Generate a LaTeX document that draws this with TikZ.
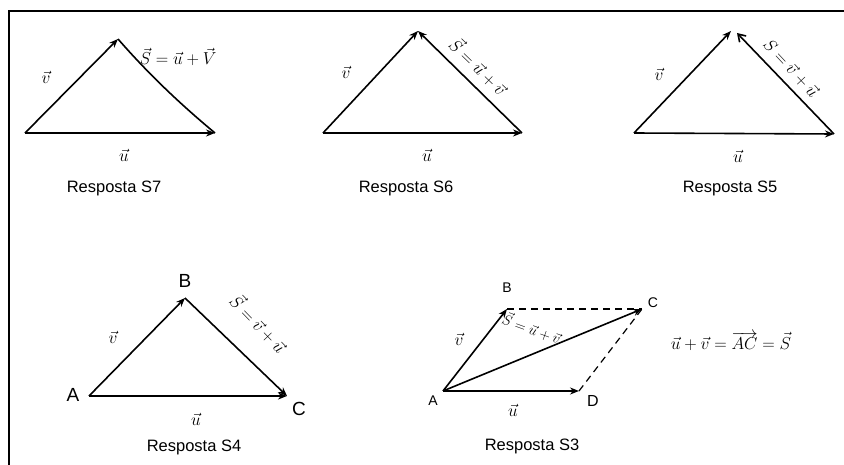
\documentclass[tikz,border=0pt]{standalone}
\usepackage{fontspec}
\setsansfont{Liberation Sans}
\usetikzlibrary{arrows.meta}
\begin{document}
\begin{tikzpicture}[x=1pt,y=-1pt,
  vec/.style={line width=1.6pt,-{Stealth[length=9pt,width=7pt]}},
  seg/.style={line width=1.6pt},
  dsh/.style={line width=1.2pt,dashed,dash pattern=on 7pt off 5pt},
  vlab/.style={font=\fontsize{18}{19}\selectfont},
  hand/.style={font=\fontsize{16}{17}\selectfont},
  pt/.style={font=\fontsize{19}{20}\selectfont\sffamily},
  resp/.style={font=\fontsize{16.5}{18}\selectfont\sffamily}]
\useasboundingbox (0,0) rectangle (844,465);
% frame (left and top lines)
\coordinate (fBL) at (9,465);
\coordinate (fTL) at (9,11);
\coordinate (fTR) at (844,11);
\draw[line width=2pt] (fBL) -- (fTL) -- (fTR);

% ---------- S7 ----------
\coordinate (a7) at (25,133);
\coordinate (b7) at (118,39);
\coordinate (c7) at (215,133);
\draw[vec] (a7) -- (c7);
\draw[vec] (a7) -- (b7);
\draw[seg] (b7) .. controls (152,78) and (185,108) .. (c7);
\node[vlab] (v7) at (46,77) {$\vec{v}$};
\node[vlab] (u7) at (124,155) {$\vec{u}$};
\node[hand] (s7) at (178,57) {$\vec{S}=\vec{u}+\vec{V}$};
\node[resp] (r7) at (114,188) {Resposta S7};

% ---------- S6 ----------
\coordinate (a6) at (323,133);
\coordinate (b6) at (418,31);
\coordinate (c6) at (522,133);
\draw[vec] (a6) -- (c6);
\draw[vec] (a6) -- (b6);
\draw[vec] (c6) -- (b6);
\node[vlab] (v6) at (346,72) {$\vec{v}$};
\node[vlab] (u6) at (427,155) {$\vec{u}$};
\node[hand,rotate=-44] (s6) at (479,66) {$\vec{S}=\vec{u}+\vec{v}$};
\node[resp] (r6) at (406,188) {Resposta S6};

% ---------- S5 ----------
\coordinate (a5) at (634,133);
\coordinate (b5) at (731,31);
\coordinate (b5s) at (737,33);
\coordinate (c5) at (834,134);
\draw[vec] (a5) -- (c5);
\draw[vec] (a5) -- (b5);
\draw[line width=1.6pt,-{Straight Barb[length=7pt,width=9pt]}] (c5) -- (b5s);
\node[vlab] (v5) at (659,74) {$\vec{v}$};
\node[vlab] (u5) at (738,156) {$\vec{u}$};
\node[hand,rotate=-47] (s5) at (791,68) {$S=\vec{v}+\vec{u}$};
\node[resp] (r5) at (730,188) {Resposta S5};

% ---------- S4 ----------
\coordinate (a4) at (89,396);
\coordinate (b4) at (185,298);
\coordinate (c4) at (287,396);
\draw[vec] (a4) -- (c4);
\draw[vec] (a4) -- (b4);
\draw[vec] (b4) -- (c4);
\node[pt] (A4) at (73,395) {A};
\node[pt] (B4) at (185,281) {B};
\node[pt] (C4) at (299,409) {C};
\node[vlab] (v4) at (113,337) {$\vec{v}$};
\node[vlab] (u4) at (196,419) {$\vec{u}$};
\node[hand,rotate=-46] (s4) at (259,323) {$\vec{S}=\vec{v}+\vec{u}$};
\node[resp] (r4) at (194,447) {Resposta S4};

% ---------- S3 ----------
\coordinate (a3) at (443,391);
\coordinate (b3) at (507,309);
\coordinate (c3) at (642,309);
\coordinate (d3) at (579,391);
\draw[dsh] (b3) -- (c3);
\draw[dsh] (d3) -- (c3);
\draw[vec] (a3) -- (d3);
\draw[vec] (a3) -- (b3);
\draw[vec] (a3) -- (c3);
\node[font=\fontsize{14}{15}\selectfont\sffamily] (A3) at (433,401) {A};
\node[font=\fontsize{14}{15}\selectfont\sffamily] (B3) at (507,288) {B};
\node[font=\fontsize{14}{15}\selectfont\sffamily] (C3) at (653,303) {C};
\node[font=\fontsize{16}{17}\selectfont\sffamily] (D3) at (593,401) {D};
\node[vlab] (v3) at (459,339) {$\vec{v}$};
\node[vlab] (u3) at (513,410) {$\vec{u}$};
\node[font=\fontsize{14.5}{15}\selectfont,rotate=-20] (s3) at (532,328) {$\vec{S}=\vec{u}+\vec{v}$};
\node[hand] (eq3) at (731,341) {$\vec{u}+\vec{v}=\overrightarrow{AC}=\vec{S}$};
\node[resp] (r3) at (532,446) {Resposta S3};
\end{tikzpicture}
\end{document}
